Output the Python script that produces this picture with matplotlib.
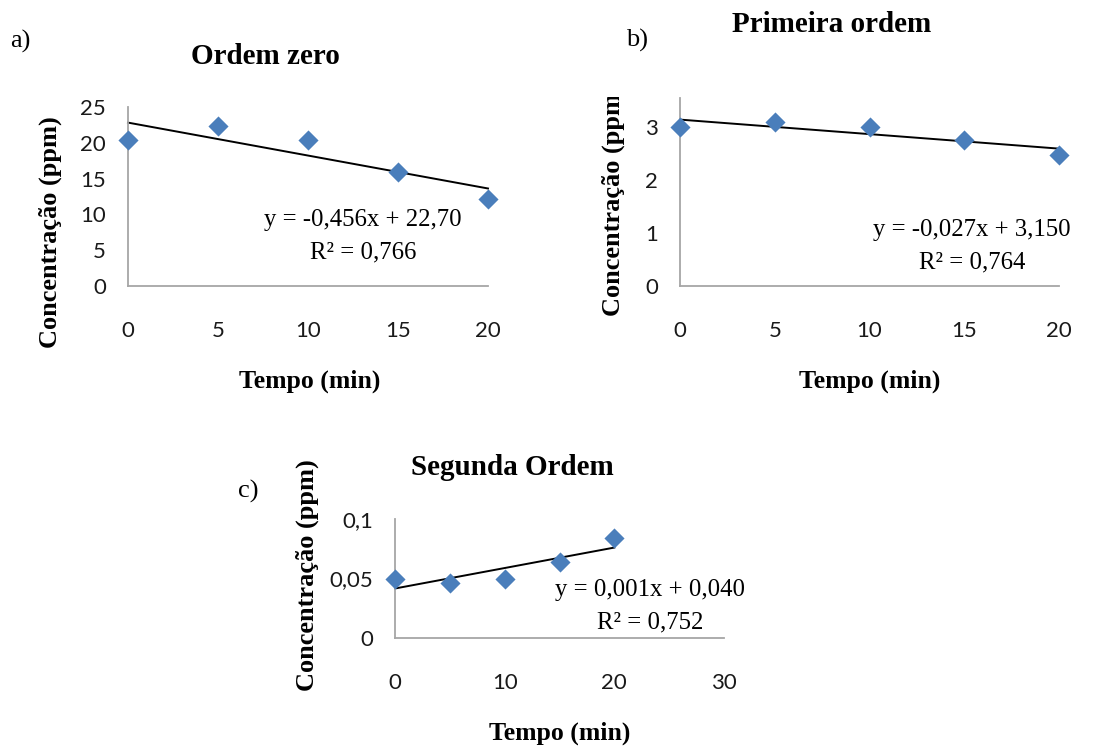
import numpy as np
import matplotlib
matplotlib.use('Agg')
import matplotlib.pyplot as plt
from matplotlib.transforms import Bbox

# tempo (min)
t = [0, 5, 10, 15, 20]

# a) ordem zero: C (ppm)
conc_zero = [20.4, 22.3, 20.4, 15.9, 12.1]
eq_zero = ['y = -0,456x + 22,70', 'R² = 0,766']

# b) primeira ordem: ln C
conc_primeira = [3.0, 3.09, 3.01, 2.76, 2.48]
eq_primeira = ['y = -0,027x + 3,150', 'R² = 0,764']

# c) segunda ordem: 1/C
conc_segunda = [0.050, 0.046, 0.050, 0.064, 0.084]
eq_segunda = ['y = 0,001x + 0,040', 'R² = 0,752']

azul = '#4A7EBB'
serif = 'Liberation Serif'
sans = 'Lato'
W, H = 1115, 748

fig = plt.figure(figsize=(11.15, 7.48), dpi=100)

def px(x, y):
    return x / W, 1 - y / H

def painel(rect, y, titulo, title_xy, letra, letra_xy, xlim, xticks, ylim, yticks, ylab,
           eq, eq_xy, ylab_xy, xlab_xy):
    ax = fig.add_axes(rect)
    ax.scatter(t, y, marker='D', s=105, c=azul, zorder=3, linewidths=0, clip_on=False)
    # linha de tendencia linear (como no Excel)
    a, b = np.polyfit(t, y, 1)
    xx = np.array([t[0], t[-1]])
    ax.plot(xx, a * xx + b, color='black', lw=1.4, zorder=2, clip_on=False)
    ax.set_xlim(*xlim)
    ax.set_ylim(*ylim)
    ax.set_xticks(xticks)
    ax.set_yticks(yticks)
    ax.set_xticklabels([str(v) for v in xticks])
    ax.set_yticklabels(ylab)
    for s in ['top', 'right']:
        ax.spines[s].set_visible(False)
    for s in ['left', 'bottom']:
        ax.spines[s].set_color('#A6A6A6')
        ax.spines[s].set_linewidth(1.3)
    ax.tick_params(length=0, labelsize=16, colors='#1a1a1a')
    ax.tick_params(axis='x', pad=25)
    ax.tick_params(axis='y', pad=16)
    for lb in ax.get_xticklabels() + ax.get_yticklabels():
        lb.set_family(sans)
    ax.patch.set_alpha(0)
    for i, linha in enumerate(eq):
        fig.text(*px(eq_xy[0], eq_xy[1] + 32 * i), linha, ha='center', va='center',
                 family=serif, fontsize=17.8)
    fig.text(*px(*title_xy), titulo, ha='center', va='center',
             family=serif, fontsize=21, fontweight='bold')
    fig.text(*px(*letra_xy), letra, ha='center', va='center',
             family=serif, fontsize=19)
    yl = fig.text(*px(*ylab_xy), 'Concentração (ppm)', ha='center',
                  va='center', rotation=90, family=serif, fontsize=19, fontweight='bold')
    fig.text(*px(*xlab_xy), 'Tempo (min)', ha='center', va='center',
             family=serif, fontsize=18.5, fontweight='bold')
    return ax, yl

# a)
painel([128 / W, 1 - 286 / H, 360 / W, 179 / H], conc_zero, 'Ordem zero', (265, 56),
       'a)', (20, 41), (0, 20), [0, 5, 10, 15, 20], (0, 25), [0, 5, 10, 15, 20, 25],
       ['0', '5', '10', '15', '20', '25'], eq_zero, (363, 220), (50, 232), (310, 381))

# b)
axb, ylb = painel([680 / W, 1 - 286 / H, 379 / W, 188 / H], conc_primeira, 'Primeira ordem',
                  (832, 25), 'b)', (637, 40), (0, 20), [0, 5, 10, 15, 20], (0, 3.55), [0, 1, 2, 3],
                  ['0', '1', '2', '3'], eq_primeira, (972, 230), (613, 200), (870, 381))
# o rótulo do eixo y está cortado no topo no original
ylb.set_clip_box(Bbox.from_extents(0, 0, W, H - 97))
ylb.set_clip_on(True)

# c)
painel([395 / W, 1 - 638 / H, 329 / W, 119 / H], conc_segunda, 'Segunda Ordem', (512, 468),
       'c)', (248, 491), (0, 30), [0, 10, 20, 30], (0, 0.1), [0, 0.05, 0.1],
       ['0', '0,05', '0,1'], eq_segunda, (650, 590), (307, 575), (560, 733))

fig.savefig('out.png', dpi=100)
